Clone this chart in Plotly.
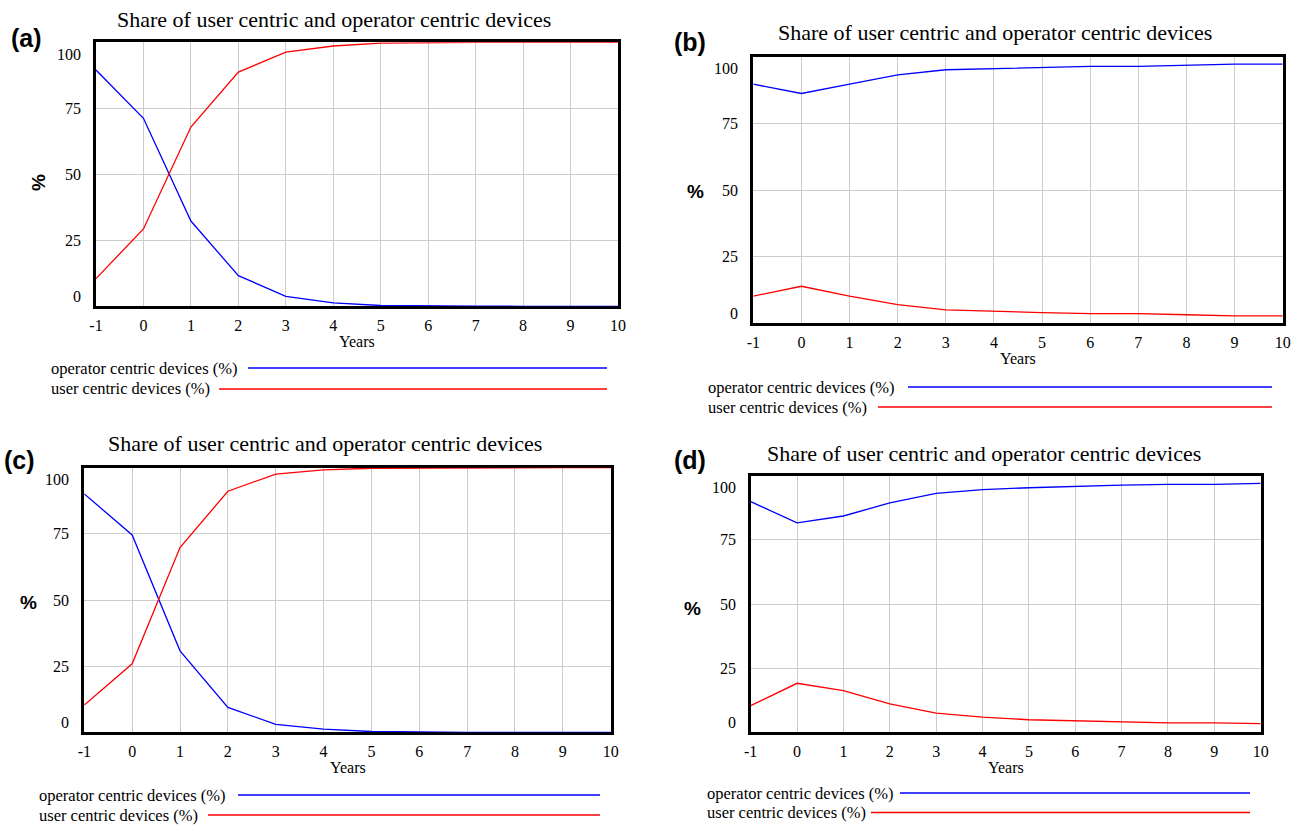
import plotly.graph_objects as go

# ---------------- data ----------------
years = [-1, 0, 1, 2, 3, 4, 5, 6, 7, 8, 9, 10]
series_names = ["operator centric devices (%)", "user centric devices (%)"]
chart_title = "Share of user centric and operator centric devices"
x_title = "Years"
y_title = "%"
y_tick_values = [0, 25, 50, 75, 100]
y_tick_labels = ["0", "25", "50", "75", "100"]
panel_labels = ["(a)", "(b)", "(c)", "(d)"]

a_operator = [89.5, 71.2, 32.3, 11.6, 3.8, 1.3, 0.3, 0.1, 0.1, 0.0, 0.0, 0.0]
a_user = [10.5, 29.3, 67.9, 88.7, 96.3, 98.6, 99.7, 99.9, 100.0, 100.0, 100.0, 100.0]

b_operator = [89.7, 86.2, 89.7, 93.2, 95.1, 95.5, 95.8, 96.4, 96.4, 96.9, 97.2, 97.2]
b_user = [10.2, 13.9, 10.2, 7.0, 5.0, 4.4, 4.0, 3.6, 3.6, 3.2, 2.8, 2.8]

c_operator = [90.1, 74.6, 30.8, 9.4, 3.0, 1.2, 0.3, 0.1, 0.0, 0.0, 0.0, 0.0]
c_user = [10.3, 25.9, 69.8, 91.1, 97.6, 99.2, 99.8, 99.9, 100.0, 100.0, 100.0, 100.0]

d_operator = [89.9, 81.6, 84.3, 89.4, 93.1, 94.6, 95.3, 95.9, 96.3, 96.6, 96.6, 97.0]
d_user = [10.4, 19.1, 16.2, 11.1, 7.5, 5.9, 4.9, 4.5, 4.1, 3.7, 3.7, 3.4]

panel_data = [
    (a_operator, a_user),
    (b_operator, b_user),
    (c_operator, c_user),
    (d_operator, d_user),
]
series_colors = ["#0000FF", "#FF0000"]

# ---------------- layout geometry (pixels of the target picture) ----------------
W, H = 1299, 827


def fx(p):
    return p / W


def fy(p):
    return 1 - p / H


panels = [
    dict(dx=(96, 618), dy=(42.3, 306.3), title=(334.5, 20), lab=(27, 38),
         pct=(38, 183), pct_ang=-90, leg_x=49, leg_y=(368, 389),
         leg_lines=((248, 607), (219, 607))),
    dict(dx=(753.3, 1282.7), dy=(56.7, 323.3), title=(995, 33), lab=(690, 42),
         pct=(695, 192), pct_ang=0, leg_x=706, leg_y=(387, 407),
         leg_lines=((908, 1272), (878, 1272))),
    dict(dx=(84.3, 610.7), dy=(467.7, 732.3), title=(325, 443), lab=(19, 460),
         pct=(28, 602), pct_ang=0, leg_x=37, leg_y=(795, 815),
         leg_lines=((238, 600), (208, 600))),
    dict(dx=(750.7, 1260.7), dy=(475.7, 732.3), title=(983.5, 453), lab=(690, 460),
         pct=(692, 608), pct_ang=0, leg_x=705, leg_y=(793, 812.5),
         leg_lines=((900, 1250), (871, 1250))),
]

SERIF = "Liberation Serif, Times New Roman, serif"
SANS = "Liberation Sans, Arial, sans-serif"

fig = go.Figure()
annotations = []
shapes = []
layout_axes = {}

for i, (pan, (ops, usr)) in enumerate(zip(panels, panel_data)):
    n = i + 1
    xa = "x" if n == 1 else f"x{n}"
    ya = "y" if n == 1 else f"y{n}"
    xkey = "xaxis" if n == 1 else f"xaxis{n}"
    ykey = "yaxis" if n == 1 else f"yaxis{n}"

    for name, vals, col in zip(series_names, (ops, usr), series_colors):
        fig.add_trace(go.Scatter(
            x=years, y=vals, mode="lines", name=name,
            line=dict(color=col, width=1.3),
            xaxis=xa, yaxis=ya, showlegend=False, hoverinfo="x+y+name",
        ))

    layout_axes[xkey] = dict(
        domain=[fx(pan["dx"][0]), fx(pan["dx"][1])],
        anchor=ya, range=[-1, 10], tickmode="array", tickvals=years,
        ticktext=[str(v) for v in years],
        showgrid=True, gridcolor="#cccccc", gridwidth=1,
        showline=True, linecolor="black", linewidth=2.5, mirror=True,
        ticks="outside", ticklen=3, tickcolor="rgba(0,0,0,0)",
        tickfont=dict(family=SERIF, size=16, color="black"),
        zeroline=False, layer="below traces", fixedrange=True,
        automargin=False,
    )
    layout_axes[ykey] = dict(
        domain=[fy(pan["dy"][1]), fy(pan["dy"][0])],
        anchor=xa, range=[0, 100], tickmode="array", tickvals=y_tick_values,
        showticklabels=False,
        showgrid=True, gridcolor="#cccccc", gridwidth=1,
        showline=True, linecolor="black", linewidth=2.5, mirror=True,
        zeroline=False, layer="below traces", fixedrange=True,
        automargin=False,
    )

    # y tick labels (end labels tucked inside, as in the original)
    for v, t in zip(y_tick_values, y_tick_labels):
        shift = 0
        if v == max(y_tick_values):
            shift = -12
        elif v == min(y_tick_values):
            shift = 10
        annotations.append(dict(
            text=t, xref=f"{xa} domain", x=0, xanchor="right", xshift=-13,
            yref=ya, y=v, yanchor="middle", yshift=shift, showarrow=False,
            font=dict(family=SERIF, size=16, color="black"),
        ))

    # x title
    annotations.append(dict(
        text=x_title, xref=f"{xa} domain", x=0.5, xanchor="center",
        yref=f"{ya} domain", y=0, yanchor="middle", yshift=-35,
        showarrow=False, font=dict(family=SERIF, size=16, color="black"),
    ))

    # chart title
    annotations.append(dict(
        text=chart_title, xref="paper", x=fx(pan["title"][0]), xanchor="center",
        yref="paper", y=fy(pan["title"][1]), yanchor="middle", showarrow=False,
        font=dict(family=SERIF, size=22, color="black"),
    ))

    # panel label
    annotations.append(dict(
        text=f"<b>{panel_labels[i]}</b>", xref="paper", x=fx(pan["lab"][0]),
        xanchor="center", yref="paper", y=fy(pan["lab"][1]), yanchor="middle",
        showarrow=False, font=dict(family=SANS, size=25, color="black"),
    ))

    # y axis title
    annotations.append(dict(
        text=f"<b>{y_title}</b>", xref="paper", x=fx(pan["pct"][0]),
        xanchor="center", yref="paper", y=fy(pan["pct"][1]), yanchor="middle",
        textangle=pan["pct_ang"], showarrow=False,
        font=dict(family=SANS, size=19, color="black"),
    ))

    # legend (text + line)
    for k, (name, col) in enumerate(zip(series_names, series_colors)):
        ly = pan["leg_y"][k]
        annotations.append(dict(
            text=name, xref="paper", x=fx(pan["leg_x"]), xanchor="left",
            yref="paper", y=fy(ly), yanchor="middle", showarrow=False,
            font=dict(family=SERIF, size=16.5, color="black"),
        ))
        x0, x1 = pan["leg_lines"][k]
        shapes.append(dict(
            type="line", xref="paper", yref="paper",
            x0=fx(x0), x1=fx(x1), y0=fy(ly), y1=fy(ly),
            line=dict(color=col, width=1.3),
        ))

fig.update_layout(
    width=W, height=H,
    margin=dict(l=0, r=0, t=0, b=0, autoexpand=False),
    paper_bgcolor="white", plot_bgcolor="white",
    showlegend=False,
    annotations=annotations, shapes=shapes,
    **layout_axes,
)

# remove the default 8px page margin so the figure fills the window exactly
fig.write_html(
    "out.html",
    config={"responsive": False, "displayModeBar": False},
    post_script="document.body.style.margin='0';document.body.style.overflow='hidden';",
)
